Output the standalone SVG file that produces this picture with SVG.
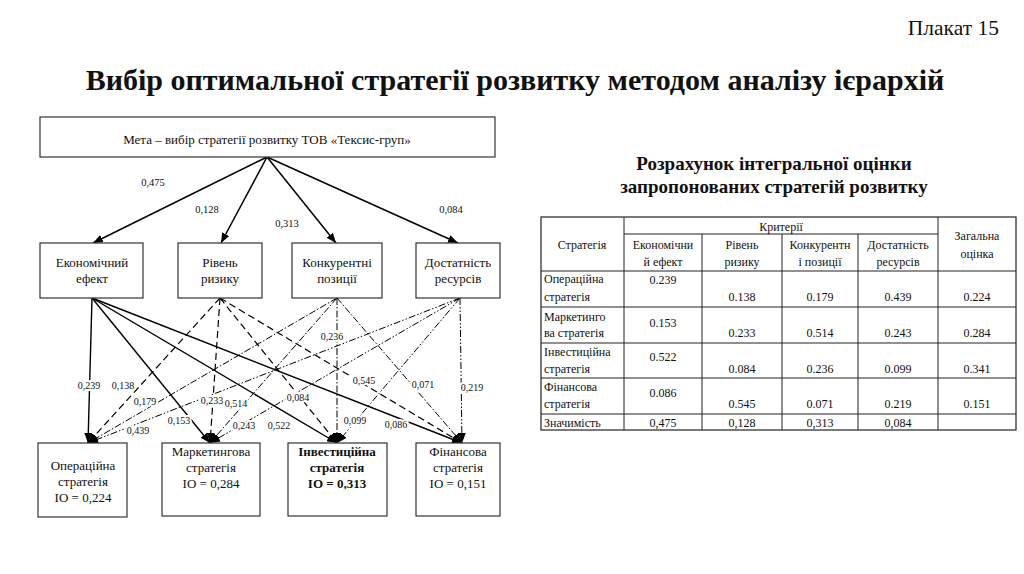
<svg xmlns="http://www.w3.org/2000/svg" width="1024" height="574" viewBox="0 0 1024 574">
<defs>
<marker id="ah" markerUnits="userSpaceOnUse" markerWidth="10" markerHeight="8" refX="10" refY="4" orient="auto">
<path d="M0,0 L10,4 L0,8 z" fill="#000"/>
</marker>
<style>
text{font-family:"Liberation Serif","Times New Roman",serif;fill:#111;}
.box{fill:#fff;stroke:#333;stroke-width:1.2;}
.t13{font-size:13px;text-anchor:middle;}
.lbl{font-size:10px;text-anchor:middle;stroke:#fff;stroke-width:4;paint-order:stroke;stroke-linejoin:round;}
.top{stroke:#000;stroke-width:1.5;fill:none;marker-end:url(#ah);}
.e{stroke:#000;stroke-width:1.4;fill:none;marker-end:url(#ah);}
.r{stroke:#000;stroke-width:1.2;fill:none;stroke-dasharray:7,4;marker-end:url(#ah);}
.k{stroke:#000;stroke-width:1;fill:none;stroke-dasharray:7,2,1.5,2;marker-end:url(#ah);}
.d{stroke:#000;stroke-width:1;fill:none;stroke-dasharray:7,2,1.5,2,1.5,2;marker-end:url(#ah);}
.tb{fill:none;stroke:#222;stroke-width:1.2;}
.tl{stroke:#222;stroke-width:1;}
.c{font-size:12px;text-anchor:middle;}
.s{font-size:12px;}
</style>
</defs>
<rect width="1024" height="574" fill="#fff"/>
<text x="999" y="35" style="font-size:21.5px;text-anchor:end">Плакат 15</text>
<text x="515" y="90" style="font-size:30px;font-weight:bold;text-anchor:middle">Вибір оптимальної стратегії розвитку методом аналізу ієрархій</text>

<g id="connectors">
<line class="top" x1="267" y1="157" x2="93" y2="243"/>
<line class="top" x1="267" y1="157" x2="221" y2="243"/>
<line class="top" x1="267" y1="157" x2="336" y2="243"/>
<line class="top" x1="267" y1="157" x2="458" y2="243"/>
<line class="e" x1="92" y1="298" x2="88" y2="443"/>
<line class="e" x1="92" y1="298" x2="210" y2="443"/>
<line class="e" x1="92" y1="298" x2="337" y2="443"/>
<line class="e" x1="92" y1="298" x2="462" y2="443"/>
<line class="r" x1="220" y1="298" x2="88" y2="443"/>
<line class="r" x1="220" y1="298" x2="210" y2="443"/>
<line class="r" x1="220" y1="298" x2="337" y2="443"/>
<line class="r" x1="220" y1="298" x2="462" y2="443"/>
<line class="k" x1="337" y1="298" x2="88" y2="443"/>
<line class="k" x1="337" y1="298" x2="210" y2="443"/>
<line class="k" x1="337" y1="298" x2="337" y2="443"/>
<line class="k" x1="337" y1="298" x2="462" y2="443"/>
<line class="d" x1="460" y1="298" x2="88" y2="443"/>
<line class="d" x1="460" y1="298" x2="210" y2="443"/>
<line class="d" x1="460" y1="298" x2="337" y2="443"/>
<line class="d" x1="460" y1="298" x2="462" y2="443"/>
<text class="lbl" x="153" y="186" style="font-size:10.5px">0,475</text>
<text class="lbl" x="207" y="213" style="font-size:10.5px">0,128</text>
<text class="lbl" x="287" y="227" style="font-size:10.5px">0,313</text>
<text class="lbl" x="451" y="213" style="font-size:10.5px">0,084</text>
<text class="lbl" x="89" y="389">0,239</text>
<text class="lbl" x="123" y="389">0,138</text>
<text class="lbl" x="145" y="405">0,179</text>
<text class="lbl" x="179" y="424">0,153</text>
<text class="lbl" x="138" y="434">0,439</text>
<text class="lbl" x="212" y="404">0,233</text>
<text class="lbl" x="236" y="407">0,514</text>
<text class="lbl" x="244" y="429">0,243</text>
<text class="lbl" x="279" y="429">0,522</text>
<text class="lbl" x="298" y="401">0,084</text>
<text class="lbl" x="332" y="340">0,236</text>
<text class="lbl" x="364" y="384">0,545</text>
<text class="lbl" x="423" y="388">0,071</text>
<text class="lbl" x="472" y="391">0,219</text>
<text class="lbl" x="355" y="424">0,099</text>
<text class="lbl" x="396" y="428">0,086</text>
</g>

<g id="goal">
<rect class="box" x="40" y="117" width="455" height="40"/>
<text class="t13" x="267" y="144">Мета – вибір стратегії розвитку ТОВ «Тексис-груп»</text>
</g>

<g id="crit-econ">
<rect class="box" x="40" y="243" width="103" height="55"/>
<text class="t13" x="92" y="267">Економічний</text>
<text class="t13" x="92" y="283">ефект</text>
</g>
<g id="crit-risk">
<rect class="box" x="178" y="243" width="84" height="55"/>
<text class="t13" x="220" y="267">Рівень</text>
<text class="t13" x="220" y="283">ризику</text>
</g>
<g id="crit-comp">
<rect class="box" x="292" y="243" width="90" height="55"/>
<text class="t13" x="337" y="267">Конкурентні</text>
<text class="t13" x="337" y="283">позиції</text>
</g>
<g id="crit-res">
<rect class="box" x="416" y="243" width="84" height="55"/>
<text class="t13" x="458" y="267">Достатність</text>
<text class="t13" x="458" y="283">ресурсів</text>
</g>

<g id="str-oper">
<rect class="box" x="38" y="443" width="89" height="74"/>
<text class="t13" x="83" y="470">Операційна</text>
<text class="t13" x="83" y="486">стратегія</text>
<text class="t13" x="83" y="502">IO = 0,224</text>
</g>
<g id="str-mark">
<rect class="box" x="162" y="443" width="98" height="73"/>
<text class="t13" x="211" y="456">Маркетингова</text>
<text class="t13" x="211" y="472">стратегія</text>
<text class="t13" x="211" y="488">IO = 0,284</text>
</g>
<g id="str-inv">
<rect class="box" x="288" y="443" width="99" height="73"/>
<text class="t13" x="337" y="456" font-weight="bold">Інвестиційна</text>
<text class="t13" x="337" y="472" font-weight="bold">стратегія</text>
<text class="t13" x="337" y="488" font-weight="bold">IO = 0,313</text>
</g>
<g id="str-fin">
<rect class="box" x="416" y="443" width="84" height="73"/>
<text class="t13" x="458" y="456">Фінансова</text>
<text class="t13" x="458" y="472">стратегія</text>
<text class="t13" x="458" y="488">IO = 0,151</text>
</g>

<g id="table-title">
<text x="774" y="170" style="font-size:19px;font-weight:bold;text-anchor:middle">Розрахунок інтегральної оцінки</text>
<text x="774" y="193" style="font-size:19px;font-weight:bold;text-anchor:middle">запропонованих стратегій розвитку</text>
</g>

<g id="table">
<rect class="tb" x="541" y="217" width="475" height="213"/>
<line class="tl" x1="624" y1="217" x2="624" y2="430"/>
<line class="tl" x1="702" y1="234" x2="702" y2="430"/>
<line class="tl" x1="782" y1="234" x2="782" y2="430"/>
<line class="tl" x1="858" y1="234" x2="858" y2="430"/>
<line class="tl" x1="938" y1="217" x2="938" y2="430"/>
<line class="tl" x1="624" y1="234" x2="938" y2="234"/>
<line class="tl" x1="541" y1="271" x2="1016" y2="271"/>
<line class="tl" x1="541" y1="307" x2="1016" y2="307"/>
<line class="tl" x1="541" y1="343" x2="1016" y2="343"/>
<line class="tl" x1="541" y1="378" x2="1016" y2="378"/>
<line class="tl" x1="541" y1="414" x2="1016" y2="414"/>

<text class="c" x="582" y="249">Стратегія</text>
<text class="c" x="781" y="231">Критерії</text>
<text class="c" x="663" y="249">Економічни</text>
<text class="c" x="663" y="266">й ефект</text>
<text class="c" x="742" y="249">Рівень</text>
<text class="c" x="742" y="266">ризику</text>
<text class="c" x="820" y="249">Конкурентн</text>
<text class="c" x="820" y="266">і позиції</text>
<text class="c" x="898" y="249">Достатність</text>
<text class="c" x="898" y="266">ресурсів</text>
<text class="c" x="977" y="240">Загальна</text>
<text class="c" x="977" y="258">оцінка</text>

<text class="s" x="544" y="283">Операційна</text>
<text class="s" x="544" y="301">стратегія</text>
<text class="c" x="663" y="284">0.239</text>
<text class="c" x="742" y="301">0.138</text>
<text class="c" x="820" y="301">0.179</text>
<text class="c" x="898" y="301">0.439</text>
<text class="c" x="977" y="301">0.224</text>

<text class="s" x="544" y="321">Маркетинго</text>
<text class="s" x="544" y="337">ва стратегія</text>
<text class="c" x="663" y="327">0.153</text>
<text class="c" x="742" y="337">0.233</text>
<text class="c" x="820" y="337">0.514</text>
<text class="c" x="898" y="337">0.243</text>
<text class="c" x="977" y="337">0.284</text>

<text class="s" x="544" y="356">Інвестиційна</text>
<text class="s" x="544" y="373">стратегія</text>
<text class="c" x="663" y="361">0.522</text>
<text class="c" x="742" y="373">0.084</text>
<text class="c" x="820" y="373">0.236</text>
<text class="c" x="898" y="373">0.099</text>
<text class="c" x="977" y="373">0.341</text>

<text class="s" x="544" y="391">Фінансова</text>
<text class="s" x="544" y="408">стратегія</text>
<text class="c" x="663" y="397">0.086</text>
<text class="c" x="742" y="408">0.545</text>
<text class="c" x="820" y="408">0.071</text>
<text class="c" x="898" y="408">0.219</text>
<text class="c" x="977" y="408">0.151</text>

<text class="s" x="544" y="427">Значимість</text>
<text class="c" x="663" y="427">0,475</text>
<text class="c" x="742" y="427">0,128</text>
<text class="c" x="820" y="427">0,313</text>
<text class="c" x="898" y="427">0,084</text>
</g>
</svg>
